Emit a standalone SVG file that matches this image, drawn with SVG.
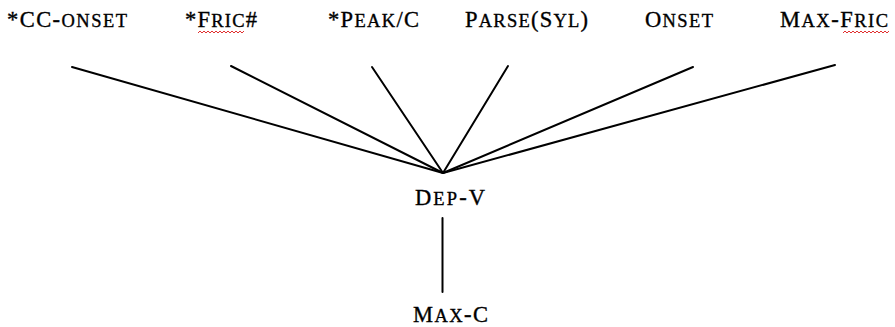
<svg xmlns="http://www.w3.org/2000/svg" width="895" height="327" viewBox="0 0 895 327">
  <style>
    .lbl { font-family: "Liberation Serif", "Times New Roman", serif; font-size: 22.5px; fill: #000; stroke: #000; stroke-width: 0.35; }
    .sc { font-size: 18.5px; }
    .edge { stroke: #000; stroke-width: 2; fill: none; stroke-linecap: round; }
    .squiggle { stroke: #e03030; stroke-width: 1; fill: none; }
  </style>
  <defs>
    <path id="wave" d="M0 2 l2 -2 l2 2 l2 -2 l2 2 l2 -2 l2 2 l2 -2 l2 2 l2 -2 l2 2 l2 -2 l2 2 l2 -2 l2 2 l2 -2 l2 2 l2 -2 l2 2 l2 -2 l2 2 l2 -2 l2 2 l2 -2"/>
  </defs>
  <rect width="895" height="327" fill="#fff"/>

  <g id="connectors">
    <line class="edge" x1="72" y1="67" x2="443" y2="173"/>
    <line class="edge" x1="231" y1="66" x2="443" y2="173"/>
    <line class="edge" x1="372" y1="67" x2="443" y2="173"/>
    <line class="edge" x1="508" y1="66" x2="443" y2="173"/>
    <line class="edge" x1="693" y1="67" x2="443" y2="173"/>
    <line class="edge" x1="835" y1="65" x2="443" y2="173"/>
    <line class="edge" x1="442.5" y1="218" x2="442.5" y2="292"/>
  </g>

  <g id="cc-onset">
    <text class="lbl" x="7" y="27" textLength="120" lengthAdjust="spacing">*CC-<tspan class="sc">ONSET</tspan></text>
  </g>
  <g id="fric">
    <text class="lbl" x="185" y="27" textLength="72" lengthAdjust="spacing">*F<tspan class="sc">RIC</tspan>#</text>
    <use href="#wave" class="squiggle" transform="translate(198 31)"/>
  </g>
  <g id="peak-c">
    <text class="lbl" x="328" y="27" textLength="91" lengthAdjust="spacing">*P<tspan class="sc">EAK</tspan>/C</text>
  </g>
  <g id="parse-syl">
    <text class="lbl" x="465" y="27" textLength="123" lengthAdjust="spacing">P<tspan class="sc">ARSE</tspan>(S<tspan class="sc">YL</tspan>)</text>
  </g>
  <g id="onset">
    <text class="lbl" x="645" y="27" textLength="68" lengthAdjust="spacing">O<tspan class="sc">NSET</tspan></text>
  </g>
  <g id="max-fric">
    <text class="lbl" x="780" y="27" textLength="108" lengthAdjust="spacing">M<tspan class="sc">AX</tspan>-F<tspan class="sc">RIC</tspan></text>
    <use href="#wave" class="squiggle" transform="translate(843 31)"/>
  </g>
  <g id="dep-v">
    <text class="lbl" x="415" y="205" textLength="70" lengthAdjust="spacing">D<tspan class="sc">EP</tspan>-V</text>
  </g>
  <g id="max-c">
    <text class="lbl" x="413" y="322" textLength="75" lengthAdjust="spacing">M<tspan class="sc">AX</tspan>-C</text>
  </g>
</svg>
